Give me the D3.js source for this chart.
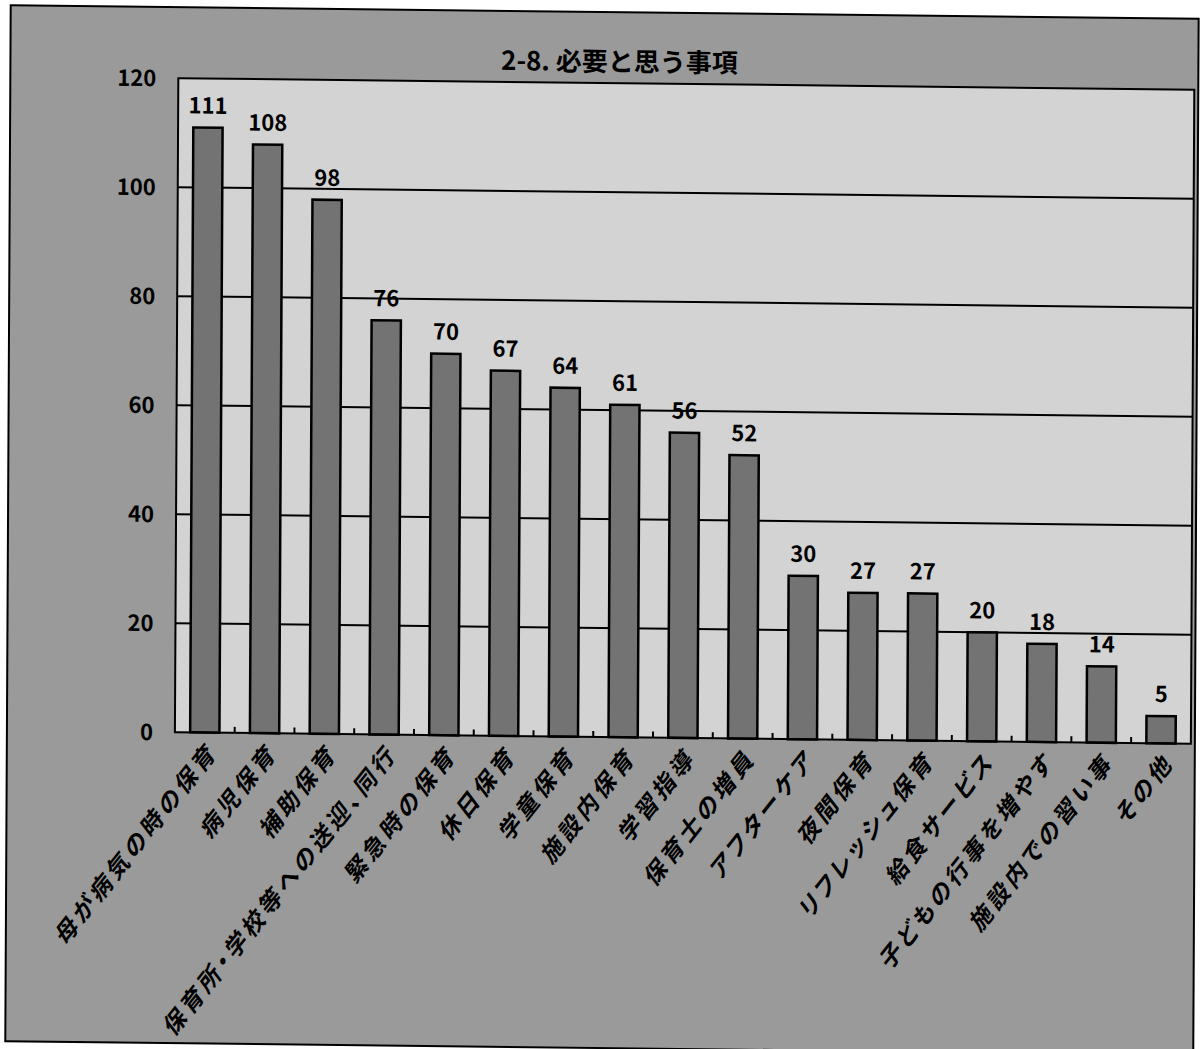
<!DOCTYPE html>
<html lang="ja">
<head>
<meta charset="utf-8">
<script src="https://cdn.jsdelivr.net/npm/d3@7/dist/d3.min.js"></script>
<style>
  html, body { margin: 0; padding: 0; background: #fff; }
  svg { display: block; }
  text { font-family: "Noto Sans CJK JP", "Noto Sans", sans-serif; font-weight: 700; fill: #000; }
  .cat-label { font-feature-settings: "palt"; }
</style>
</head>
<body>
<svg id="chart" width="1200" height="1049"></svg>
<script>
// 必要と思う事項（回答数）
const categories = [
  "母が病気の時の保育", "病児保育", "補助保育", "保育所・学校等への送迎、同行",
  "緊急時の保育", "休日保育", "学童保育", "施設内保育", "学習指導", "保育士の増員",
  "アフターケア", "夜間保育", "リフレッシュ保育", "給食サービス",
  "子どもの行事を増やす", "施設内での習い事", "その他"
];
const values = [111, 108, 98, 76, 70, 67, 64, 61, 56, 52, 30, 27, 27, 20, 18, 14, 5];
const yTicks = [0, 20, 40, 60, 80, 100, 120];
const title = "2-8. 必要と思う事項";

const W = 1200, H = 1049;
const frame = { x: 8, y: 12, w: 1188, h: 1036 };
const plot = { left: 176, right: 1192, top: 83, bottom: 737 };

const svg = d3.select("#chart");

// The whole sheet sits slightly askew on the page.
const cx = W / 2, cy = H / 2;
const g = svg.append("g")
  .attr("transform", `translate(${cx},${cy}) rotate(0.3) skewY(0.35) translate(${-cx},${-cy})`);

// sheet background and border
g.append("rect")
  .attr("x", frame.x).attr("y", frame.y)
  .attr("width", frame.w).attr("height", frame.h)
  .attr("fill", "#9a9a9a").attr("stroke", "#000").attr("stroke-width", 2);

// title
g.append("text")
  .attr("x", 617).attr("y", 71)
  .attr("text-anchor", "middle")
  .attr("font-size", 26)
  .text(title);

const x = d3.scaleBand()
  .domain(categories)
  .range([plot.left, plot.right])
  .paddingInner(0.51)
  .paddingOuter(0.255);

const y = d3.scaleLinear()
  .domain([0, 120])
  .range([plot.bottom, plot.top]);

// plot area
g.append("rect")
  .attr("x", plot.left).attr("y", plot.top)
  .attr("width", plot.right - plot.left).attr("height", plot.bottom - plot.top)
  .attr("fill", "#d3d3d3");

// horizontal gridlines
g.append("g")
  .selectAll("line")
  .data(yTicks.filter(d => d > 0 && d < 120))
  .join("line")
  .attr("x1", plot.left).attr("x2", plot.right)
  .attr("y1", d => y(d)).attr("y2", d => y(d))
  .attr("stroke", "#000").attr("stroke-width", 2);

// bars
g.append("g")
  .selectAll("rect")
  .data(values)
  .join("rect")
  .attr("x", (d, i) => x(categories[i]))
  .attr("y", d => y(d))
  .attr("width", x.bandwidth())
  .attr("height", d => y(0) - y(d))
  .attr("fill", "#737373")
  .attr("stroke", "#000")
  .attr("stroke-width", 2.5);

// value labels
g.append("g")
  .selectAll("text")
  .data(values)
  .join("text")
  .attr("x", (d, i) => x(categories[i]) + x.bandwidth() / 2)
  .attr("y", d => y(d) - 14)
  .attr("text-anchor", "middle")
  .attr("font-size", 22)
  .text(d => d);

// plot border
g.append("rect")
  .attr("x", plot.left).attr("y", plot.top)
  .attr("width", plot.right - plot.left).attr("height", plot.bottom - plot.top)
  .attr("fill", "none").attr("stroke", "#000").attr("stroke-width", 2);

// y axis labels (no axis line, ticks drawn as gridlines)
const yAxis = d3.axisLeft(y).tickValues(yTicks).tickSize(0).tickPadding(22);
const yg = g.append("g")
  .attr("transform", `translate(${plot.left},0)`)
  .call(yAxis);
yg.select(".domain").remove();
yg.selectAll("text")
  .attr("font-size", 22)
  .attr("font-family", null)
  .attr("dy", "0.35em");

// category tick marks at band boundaries, pointing into the plot
const step = x.step();
const boundaries = categories.slice(1).map(c => x(c) - (step - x.bandwidth()) / 2);
g.append("g")
  .selectAll("line")
  .data(boundaries)
  .join("line")
  .attr("x1", d => d).attr("x2", d => d)
  .attr("y1", plot.bottom).attr("y2", plot.bottom - 6)
  .attr("stroke", "#000").attr("stroke-width", 2);

// category labels, slanted (proportional kana/punctuation widths)
g.append("g")
  .selectAll("text")
  .data(categories)
  .join("text")
  .attr("class", "cat-label")
  .attr("transform", d => `translate(${x(d) + x.bandwidth() / 2 + 14},${plot.bottom + 20}) scale(0.86,1.1) rotate(-45)`)
  .attr("text-anchor", "end")
  .attr("font-size", 24)
  .attr("letter-spacing", 4)
  .text(d => d);
</script>
</body>
</html>
